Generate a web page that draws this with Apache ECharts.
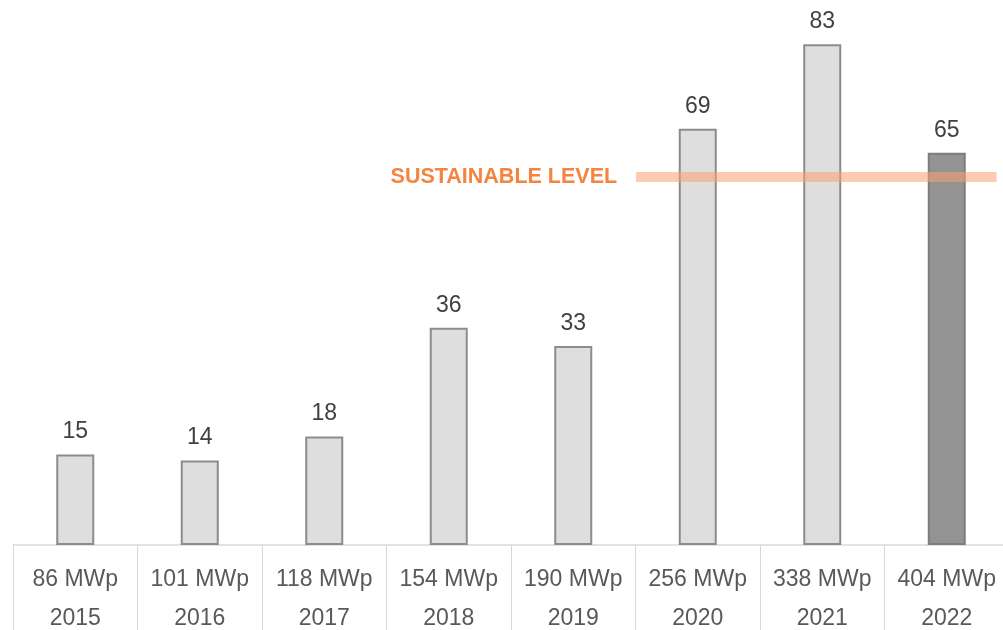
<!DOCTYPE html>
<html><head><meta charset="utf-8">
<script src="https://cdn.jsdelivr.net/npm/echarts@6/dist/echarts.min.js"></script>
<style>html,body{margin:0;padding:0;background:#fff}#c{width:1003px;height:630px}</style>
</head><body><div id="c"></div>
<script>
const years = ['2015','2016','2017','2018','2019','2020','2021','2022'];
const capacity = ['86 MWp','101 MWp','118 MWp','154 MWp','190 MWp','256 MWp','338 MWp','404 MWp'];
const values = [15, 14, 18, 36, 33, 69, 83, 65];
const sustainableLevel = 61;
const sustainableFrom = 5;      // category index where the band begins (left edge)
const sustainableTo = 7.9;      // category position where the band ends
const sustainableLabel = 'SUSTAINABLE LEVEL';

const chart = echarts.init(document.getElementById('c'));
const barData = values.map((v, i) => {
  const last = i === values.length - 1;
  return {
    value: v,
    itemStyle: last ? {color: '#939393', borderColor: '#7d7d7d'} : {color: '#dedede', borderColor: '#8c8c8c'}
  };
});
chart.setOption({
  animation: false,
  grid: {left: 13, width: 996, top: 2, height: 543, outerBoundsMode: 'none', containLabel: false},
  xAxis: [{
    type: 'category',
    data: years.map((y, i) => capacity[i] + '\n' + y),
    axisLine: {lineStyle: {color: '#d9d9d9', width: 1.5}},
    axisTick: {show: true, interval: 0, length: 90, lineStyle: {color: '#d9d9d9', width: 1}},
    axisLabel: {interval: 0, color: '#595959', fontSize: 23, fontFamily: 'Liberation Sans, Arial', lineHeight: 39, margin: 15, hideOverlap: false}
  }, {
    type: 'value', min: 0, max: years.length, show: false
  }],
  yAxis: {type: 'value', min: 0, max: 90, show: false, splitLine: {show: false}},
  series: [{
    type: 'bar',
    data: barData,
    barWidth: 38,
    itemStyle: {borderWidth: 2},
    label: {show: true, position: 'top', distance: 11, color: '#404040', fontSize: 23, fontFamily: 'Liberation Sans, Arial'}
  }, {
    type: 'line',
    xAxisIndex: 1,
    data: [
      {value: [sustainableFrom + 0.005, sustainableLevel], label: {show: true, position: 'left', distance: 19, formatter: sustainableLabel, color: '#f4843f', fontWeight: 'bold', fontSize: 21.5, fontFamily: 'Liberation Sans, Arial'}},
      {value: [sustainableTo, sustainableLevel]}
    ],
    symbol: 'circle',
    symbolSize: 0,
    showSymbol: true,
    lineStyle: {color: 'rgba(250,160,115,0.55)', width: 10, cap: 'butt'},
    z: 5
  }]
});
</script></body></html>
